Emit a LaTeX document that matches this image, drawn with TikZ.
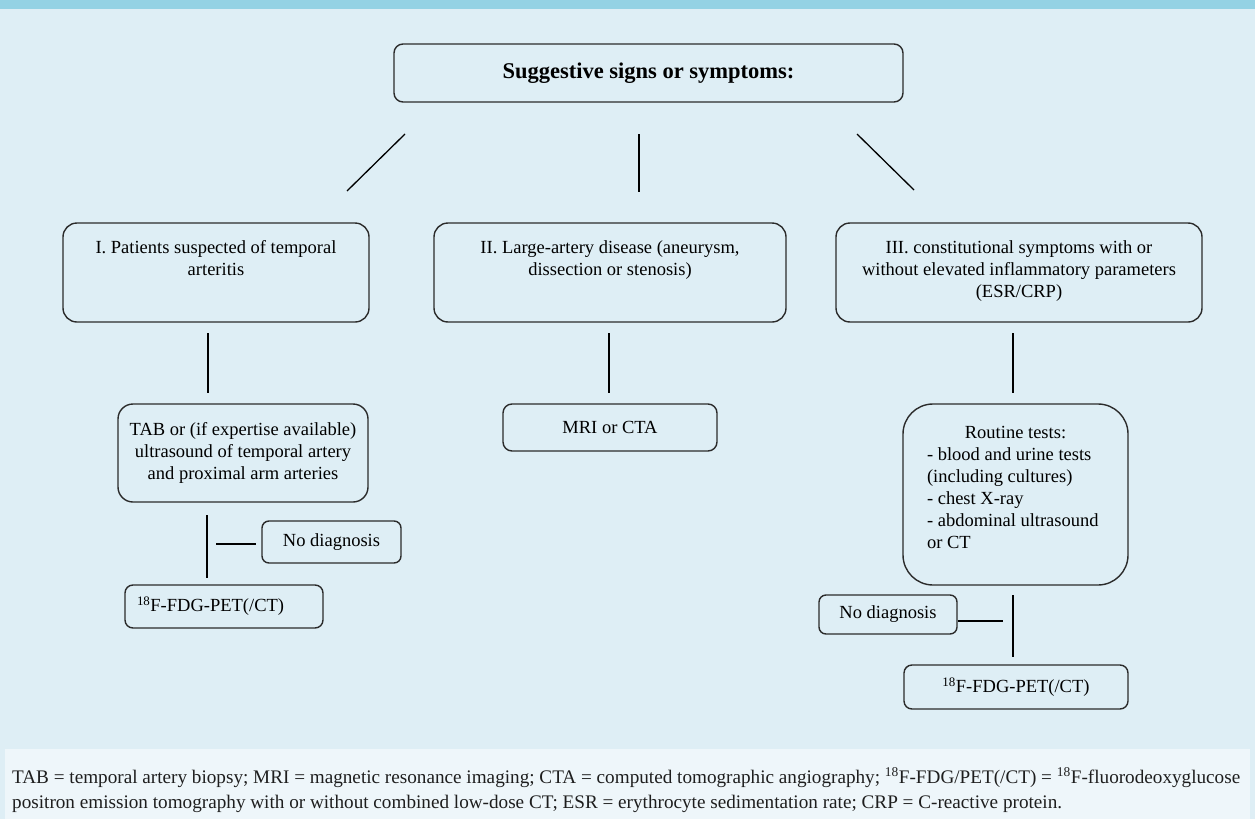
\documentclass[tikz,border=0pt]{standalone}
\usepackage{fontspec}
\setmainfont{Liberation Serif}
\usepackage{graphicx}
\definecolor{bgblue}{HTML}{DEEEF5}
\definecolor{footbg}{HTML}{EEF6FA}
\definecolor{barblue}{HTML}{94D2E4}
\definecolor{edgegray}{HTML}{2B2B2B}
\definecolor{foottext}{HTML}{1E1E1E}
\newcommand{\mainfs}{\fontsize{18.5}{22}\selectfont}
\newcommand{\topbox}[4]{\parbox[c][#2][t]{#1}{\centering\vspace*{#3}\strut #4}}
\begin{document}
\begin{tikzpicture}[x=1pt,y=-1pt,
  box/.style={draw=edgegray, line width=1.4pt, rounded corners=#1, inner sep=0pt, align=center, font=\mainfs},
  box/.default=8pt,
  conn/.style={draw=black, line width=1.3pt}]
% background
\fill[bgblue] (0,0) rectangle (1255,819);
\fill[barblue] (0,0) rectangle (1255,9);
\fill[footbg] (5,749) rectangle (1250,819);
\useasboundingbox (0,0) rectangle (1255,819);

% nodes
\node[box=9pt, minimum width=509pt, minimum height=58pt, font=\fontsize{22.5}{26}\selectfont\bfseries] (top) at (648.5,73) {Suggestive signs or symptoms:};

\node[box=14pt] (b1) at (216,272.5) {\topbox{306pt}{99pt}{14.6pt}{I. Patients suspected of temporal\\arteritis}};
\node[box=14pt] (b2) at (610,272.5) {\topbox{352pt}{99pt}{14.6pt}{II. Large-artery disease (aneurysm,\\dissection or stenosis)}};
\node[box=14pt] (b3) at (1019,272.5) {\topbox{366pt}{99pt}{14.6pt}{III. constitutional symptoms with or\\without elevated inflammatory parameters\\(ESR/CRP)}};

\node[box=15pt, minimum width=250pt, minimum height=98pt] (tab) at (243,453) {TAB or (if expertise available)\\ultrasound of temporal artery\\and proximal arm arteries};
\node[box=9pt, minimum width=214pt, minimum height=47pt] (mri) at (610,427.5) {MRI or CTA};
\node[box=30pt] (rt) at (1015.5,494.5) {\parbox[c][181pt][t]{225pt}{\vspace*{18.6pt}{\centering\strut Routine tests:\par}{\raggedright\leftskip=24pt - blood and urine tests\\(including cultures)\\- chest X-ray\\- abdominal ultrasound\\or CT\par}}};

\node[box=7pt, minimum width=139pt, minimum height=42pt] (nod1) at (331.5,542) {No diagnosis};
\node[box=8pt, minimum width=198pt, minimum height=43pt, text width=174pt, align=left] (fdg1) at (224,606.5) {\textsuperscript{18}F-FDG-PET(/CT)};
\node[box=7pt, minimum width=138pt, minimum height=39pt] (nod2) at (888,614.5) {No diagnosis};
\node[box=8pt, minimum width=224pt, minimum height=44pt] (fdg2) at (1016,687) {\textsuperscript{18}F-FDG-PET(/CT)};

% connector end points
\coordinate (c1a) at (405,134); \coordinate (c1b) at (347,191);
\coordinate (c2a) at (639,134); \coordinate (c2b) at (639,192);
\coordinate (c3a) at (857,134); \coordinate (c3b) at (914,190);
\coordinate (c4a) at (208,333); \coordinate (c4b) at (208,393);
\coordinate (c5a) at (609,333); \coordinate (c5b) at (609,393);
\coordinate (c6a) at (1013,333); \coordinate (c6b) at (1013,393);
\coordinate (c7a) at (207,515); \coordinate (c7b) at (207,578);
\coordinate (c8a) at (216,544);
\coordinate (c9a) at (1013,595); \coordinate (c9b) at (1013,657);
\coordinate (c10) at (1003,621);

\draw[conn] (c1a) -- (c1b);
\draw[conn] (c2a) -- (c2b);
\draw[conn] (c3a) -- (c3b);
\draw[conn] (c4a) -- (c4b);
\draw[conn] (c5a) -- (c5b);
\draw[conn] (c6a) -- (c6b);
\draw[conn] (c7a) -- (c7b);
\draw[conn, shorten >=5pt] (c8a) -- (c8a -| nod1.west);
\draw[conn] (c9a) -- (c9b);
\draw[conn] (c10 -| nod2.east) -- (c10);

% footer
\node[anchor=base west, inner sep=0pt, text=foottext] (foot) at (12,783) {\resizebox{1228pt}{!}{\fontsize{15}{20}\selectfont\begin{tabular}[t]{@{}l@{}}TAB = temporal artery biopsy; MRI = magnetic resonance imaging; CTA = computed tomographic angiography; \textsuperscript{18}F-FDG/PET(/CT) = \textsuperscript{18}F-fluorodeoxyglucose\\positron emission tomography with or without combined low-dose CT; ESR = erythrocyte sedimentation rate; CRP = C-reactive protein.\end{tabular}}};
\end{tikzpicture}
\end{document}
